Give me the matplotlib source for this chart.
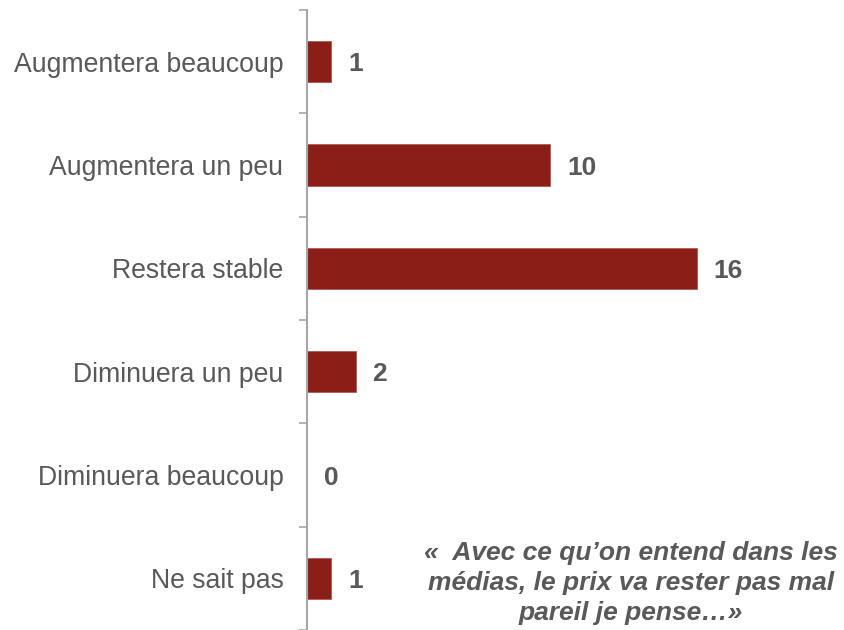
import matplotlib
matplotlib.use("Agg")
import matplotlib.pyplot as plt
import numpy as np

plt.rcParams['font.family'] = ['Liberation Sans', 'DejaVu Sans']

categories = ["Augmentera beaucoup", "Augmentera un peu", "Restera stable",
              "Diminuera un peu", "Diminuera beaucoup", "Ne sait pas"]
values = [1, 10, 16, 2, 0, 1]
quote = "«  Avec ce qu’on entend dans les\nmédias, le prix va rester pas mal\npareil je pense…»"

bar_color = "#8B1E16"
text_color = "#595959"

fig = plt.figure(figsize=(8.44, 6.30), dpi=100)
ax = fig.add_axes([307 / 844, 0.0, 1 - 307 / 844, 1 - 10 / 630])

y = np.arange(len(categories))
ax.barh(y, values, height=0.4, color=bar_color, edgecolor="#B05A52", linewidth=0.6)

ax.set_ylim(len(categories) - 0.5, -0.5)
ax.set_xlim(0, (844 - 308) / 24.3)

for yi, v in zip(y, values):
    ax.annotate(str(v), (v, yi), xytext=(12, -2), textcoords="offset points",
                ha="left", va="center", fontsize=19, fontweight="bold",
                color=text_color)

ax.set_yticks(y)
ax.set_yticklabels(categories, fontsize=19.2, color=text_color)
ax.tick_params(axis="y", which="major", length=0, pad=17)
ax.set_yticks(np.arange(-0.5, len(categories) + 0.5, 1), minor=True)
ax.tick_params(axis="y", which="minor", length=6, width=1.2, color="#A6A6A6")
ax.set_xticks([])

for side in ["top", "right", "bottom"]:
    ax.spines[side].set_visible(False)
ax.spines["left"].set_color("#A6A6A6")
ax.spines["left"].set_linewidth(1.5)

fig.text(631 / 844, 1 - 583 / 630, quote, ha="center", va="center",
         fontsize=19, fontweight="bold", fontstyle="italic",
         color=text_color, linespacing=1.33)

fig.savefig("out.png", dpi=100)
